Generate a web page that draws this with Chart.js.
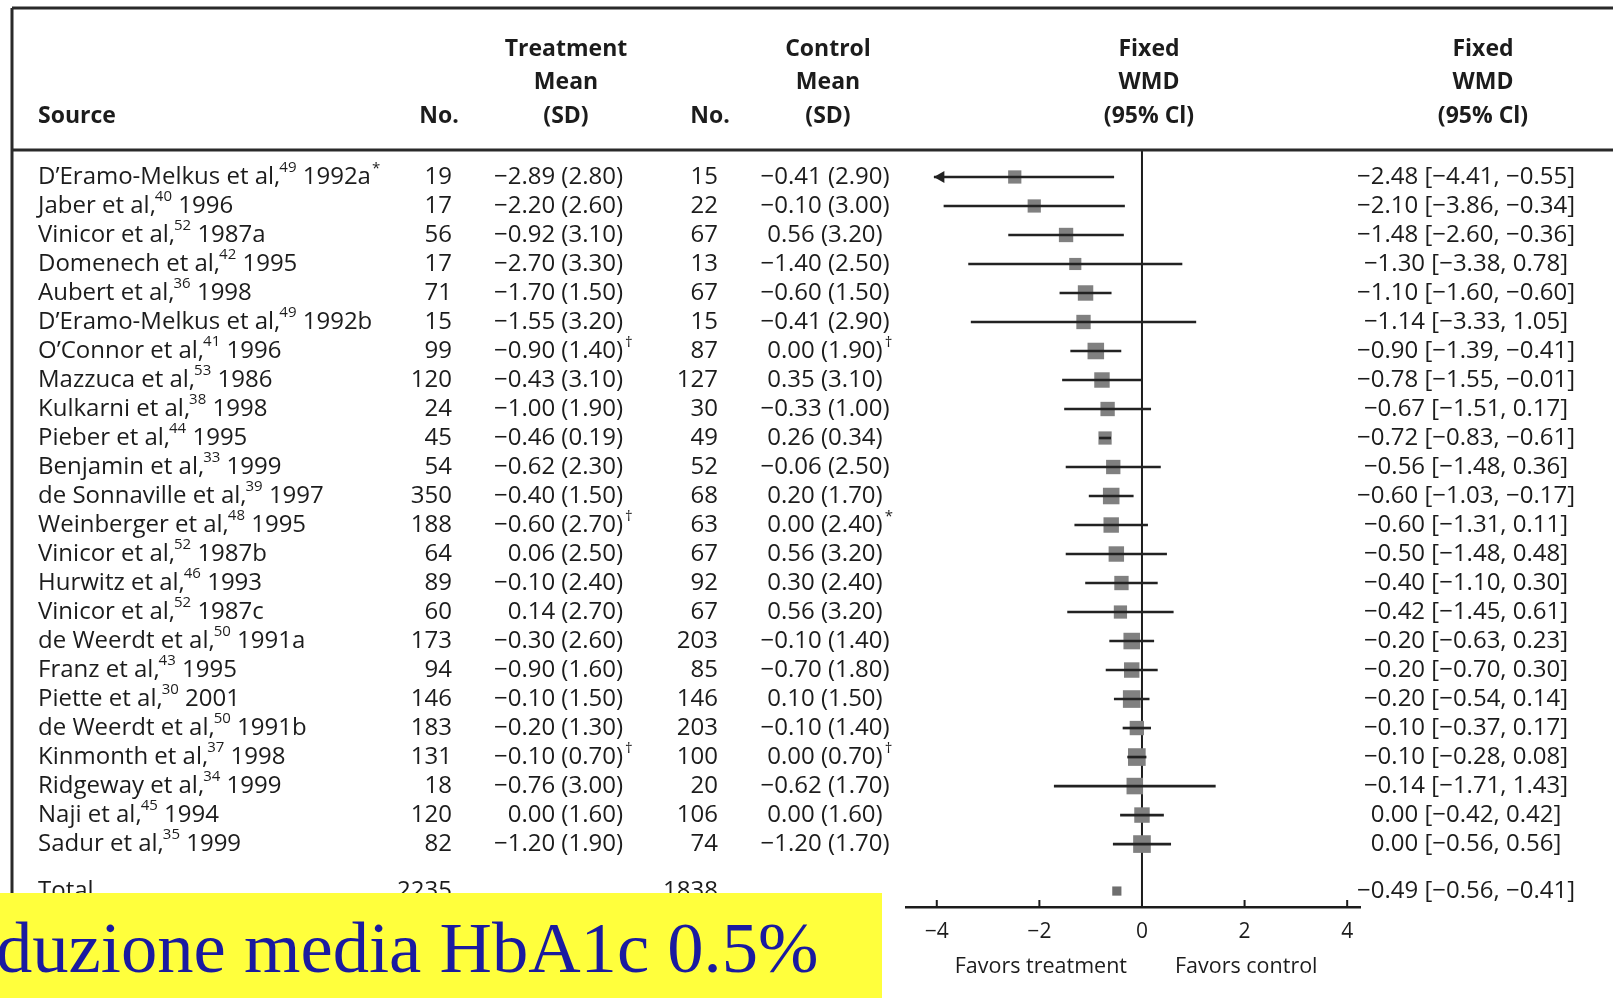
<!DOCTYPE html>
<html>
<head>
<meta charset="utf-8">
<script src="https://cdn.jsdelivr.net/npm/chart.js@4.4.1/dist/chart.umd.min.js"></script>
<style>
  html, body { margin: 0; padding: 0; background: #fff; }
  #wrap { width: 1613px; height: 998px; }
</style>
</head>
<body>
<div id="wrap"><canvas id="forest" width="1613" height="998"></canvas></div>
<script>
// study rows, top to bottom
const authors = [
  'D\u2019Eramo-Melkus et al', 'Jaber et al', 'Vinicor et al', 'Domenech et al', 'Aubert et al',
  'D\u2019Eramo-Melkus et al', 'O\u2019Connor et al', 'Mazzuca et al', 'Kulkarni et al', 'Pieber et al',
  'Benjamin et al', 'de Sonnaville et al', 'Weinberger et al', 'Vinicor et al', 'Hurwitz et al',
  'Vinicor et al', 'de Weerdt et al', 'Franz et al', 'Piette et al', 'de Weerdt et al',
  'Kinmonth et al', 'Ridgeway et al', 'Naji et al', 'Sadur et al'
];
const refs = ['49', '40', '52', '42', '36', '49', '41', '53', '38', '44', '33', '39', '48', '52', '46', '52', '50', '43', '30', '50', '37', '34', '45', '35'];
const years = ['1992a', '1996', '1987a', '1995', '1998', '1992b', '1996', '1986', '1998', '1995', '1999', '1997', '1995', '1987b', '1993', '1987c', '1991a', '1995', '2001', '1991b', '1998', '1999', '1994', '1999'];
const yearMarks = ['*', '', '', '', '', '', '', '', '', '', '', '', '', '', '', '', '', '', '', '', '', '', '', ''];

const trtN = [19, 17, 56, 17, 71, 15, 99, 120, 24, 45, 54, 350, 188, 64, 89, 60, 173, 94, 146, 183, 131, 18, 120, 82];
const trtMean = [-2.89, -2.20, -0.92, -2.70, -1.70, -1.55, -0.90, -0.43, -1.00, -0.46, -0.62, -0.40, -0.60, 0.06, -0.10, 0.14, -0.30, -0.90, -0.10, -0.20, -0.10, -0.76, 0.00, -1.20];
const trtSD = [2.80, 2.60, 3.10, 3.30, 1.50, 3.20, 1.40, 3.10, 1.90, 0.19, 2.30, 1.50, 2.70, 2.50, 2.40, 2.70, 2.60, 1.60, 1.50, 1.30, 0.70, 3.00, 1.60, 1.90];
const trtMarks = ['', '', '', '', '', '', '\u2020', '', '', '', '', '', '\u2020', '', '', '', '', '', '', '', '\u2020', '', '', ''];

const ctlN = [15, 22, 67, 13, 67, 15, 87, 127, 30, 49, 52, 68, 63, 67, 92, 67, 203, 85, 146, 203, 100, 20, 106, 74];
const ctlMean = [-0.41, -0.10, 0.56, -1.40, -0.60, -0.41, 0.00, 0.35, -0.33, 0.26, -0.06, 0.20, 0.00, 0.56, 0.30, 0.56, -0.10, -0.70, 0.10, -0.10, 0.00, -0.62, 0.00, -1.20];
const ctlSD = [2.90, 3.00, 3.20, 2.50, 1.50, 2.90, 1.90, 3.10, 1.00, 0.34, 2.50, 1.70, 2.40, 3.20, 2.40, 3.20, 1.40, 1.80, 1.50, 1.40, 0.70, 1.70, 1.60, 1.70];
const ctlMarks = ['', '', '', '', '', '', '\u2020', '', '', '', '', '', '*', '', '', '', '', '', '', '', '\u2020', '', '', ''];

const wmd = [-2.48, -2.10, -1.48, -1.30, -1.10, -1.14, -0.90, -0.78, -0.67, -0.72, -0.56, -0.60, -0.60, -0.50, -0.40, -0.42, -0.20, -0.20, -0.20, -0.10, -0.10, -0.14, 0.00, 0.00];
const ciLow = [-4.41, -3.86, -2.60, -3.38, -1.60, -3.33, -1.39, -1.55, -1.51, -0.83, -1.48, -1.03, -1.31, -1.48, -1.10, -1.45, -0.63, -0.70, -0.54, -0.37, -0.28, -1.71, -0.42, -0.56];
const ciHigh = [-0.55, -0.34, -0.36, 0.78, -0.60, 1.05, -0.41, -0.01, 0.17, -0.61, 0.36, -0.17, 0.11, 0.48, 0.30, 0.61, 0.23, 0.30, 0.14, 0.17, 0.08, 1.43, 0.42, 0.56];
// relative weight
const weight = [12, 12, 13, 11, 14, 13, 15, 14, 13, 12, 13, 15, 14, 14, 13, 12, 15, 14, 16, 13, 16, 15, 14, 16];

const totalTrtN = 2235;
const totalCtlN = 1838;
const totalWmd = -0.49;
const totalLow = -0.56;
const totalHigh = -0.41;

const xTicks = [-4, -2, 0, 2, 4];
const bannerText = 'duzione media HbA1c 0.5%';

const rows = authors.map((a, i) => i);
const totalRow = 24.62;
const plotLimit = -4.05;   // whiskers past this end in an arrow

const FONT = '"Open Sans", "Noto Sans", sans-serif';
const ink = '#1c1c1c';

function fmt(v) {
  return (v < 0 ? '\u2212' : '') + Math.abs(v).toFixed(2);
}

// draws a list of [text, size, raise, gap] pieces one after another
function drawRun(ctx, pieces, x, y) {
  let cx = x;
  pieces.forEach(p => {
    ctx.font = p[1] + 'px ' + FONT;
    ctx.fillText(p[0], cx, y - (p[2] || 0));
    cx += ctx.measureText(p[0]).width + (p[3] || 0);
  });
  return cx;
}

const tablePlugin = {
  id: 'table',
  beforeDatasetsDraw(chart) {
    const { ctx, chartArea, scales: { x } } = chart;
    const x0 = x.getPixelForValue(0);
    ctx.save();
    ctx.strokeStyle = ink;
    ctx.lineWidth = 2;
    ctx.beginPath();
    ctx.moveTo(x0, chartArea.top);
    ctx.lineTo(x0, chartArea.bottom);
    ctx.stroke();
    ctx.restore();
  },
  afterDraw(chart) {
    const { ctx, chartArea, scales: { x, y } } = chart;
    ctx.save();

    // frame
    ctx.strokeStyle = '#2a2a2a';
    ctx.lineWidth = 3;
    ctx.beginPath();
    ctx.moveTo(12, 8); ctx.lineTo(1613, 8);
    ctx.moveTo(12, chartArea.top); ctx.lineTo(1613, chartArea.top);
    ctx.moveTo(12, 8); ctx.lineTo(12, 900);
    ctx.stroke();

    // upward tick marks on the axis
    ctx.lineWidth = 2;
    ctx.strokeStyle = ink;
    ctx.beginPath();
    xTicks.forEach(v => {
      const px = x.getPixelForValue(v);
      ctx.moveTo(px, chartArea.bottom);
      ctx.lineTo(px, chartArea.bottom - 7);
    });
    ctx.stroke();

    ctx.fillStyle = ink;
    ctx.textBaseline = 'middle';

    // header
    ctx.font = 'bold 23px ' + FONT;
    ctx.textAlign = 'left';
    ctx.fillText('Source', 38, 116);
    ctx.textAlign = 'center';
    ctx.fillText('No.', 439, 116);
    ctx.fillText('No.', 710, 116);
    [['Treatment', 'Mean', '(SD)', 566], ['Control', 'Mean', '(SD)', 828],
     ['Fixed', 'WMD', '(95% Cl)', 1149], ['Fixed', 'WMD', '(95% Cl)', 1483]].forEach(h => {
      ctx.fillText(h[0], h[3], 49);
      ctx.fillText(h[1], h[3], 82);
      ctx.fillText(h[2], h[3], 116);
    });

    // rows
    rows.forEach(i => {
      const py = y.getPixelForValue(i);
      ctx.textAlign = 'left';
      drawRun(ctx, [
        [authors[i] + ',', 24, 0, -1],
        [refs[i], 15, 9, 0],
        [' ' + years[i], 24, 0, 1],
        [yearMarks[i], 15, 8]
      ], 38, py);

      ctx.font = '24px ' + FONT;
      ctx.textAlign = 'right';
      ctx.fillText(String(trtN[i]), 452, py);
      ctx.fillText(String(ctlN[i]), 718, py);
      const tText = fmt(trtMean[i]) + ' (' + trtSD[i].toFixed(2) + ')';
      ctx.fillText(tText, 623, py);
      ctx.textAlign = 'center';
      const cText = fmt(ctlMean[i]) + ' (' + ctlSD[i].toFixed(2) + ')';
      ctx.fillText(cText, 825, py);
      const cw = ctx.measureText(cText).width;
      ctx.fillText(fmt(wmd[i]) + ' [' + fmt(ciLow[i]) + ', ' + fmt(ciHigh[i]) + ']', 1466, py);

      ctx.textAlign = 'left';
      ctx.font = '15px ' + FONT;
      if (trtMarks[i]) ctx.fillText(trtMarks[i], 625, py - 8);
      if (ctlMarks[i]) ctx.fillText(ctlMarks[i], 825 + cw / 2 + 2, py - 8);
    });

    // total row
    const ty = y.getPixelForValue(totalRow);
    ctx.font = '24px ' + FONT;
    ctx.textAlign = 'left';
    ctx.fillText('Total', 38, ty);
    ctx.textAlign = 'right';
    ctx.fillText(String(totalTrtN), 452, ty);
    ctx.fillText(String(totalCtlN), 718, ty);
    ctx.textAlign = 'center';
    ctx.fillText(fmt(totalWmd) + ' [' + fmt(totalLow) + ', ' + fmt(totalHigh) + ']', 1466, ty);

    // favors labels
    const x0 = x.getPixelForValue(0);
    ctx.font = '21.5px ' + FONT;
    ctx.textAlign = 'right';
    ctx.fillText('Favors treatment', x0 - 15, 967);
    ctx.textAlign = 'left';
    ctx.fillText('Favors control', x0 + 33, 967);

    // yellow banner over the bottom left
    ctx.fillStyle = '#ffff3c';
    ctx.fillRect(0, 893, 882, 105);
    ctx.fillStyle = '#1a1aa0';
    ctx.textBaseline = 'alphabetic';
    ctx.font = '74px "Liberation Serif", "Times New Roman", serif';
    const bw = ctx.measureText(bannerText).width;
    const size = 74 * 822 / bw;
    ctx.font = size.toFixed(1) + 'px "Liberation Serif", "Times New Roman", serif';
    ctx.fillText(bannerText, -4, 972);

    ctx.restore();
  }
};

const whiskers = rows.map(i => ({ y: i, x: [Math.max(ciLow[i], plotLimit), ciHigh[i]] }));
const squares = rows.map(i => ({ x: wmd[i], y: i }));
const arrows = rows.filter(i => ciLow[i] < plotLimit).map(i => ({ x: plotLimit + 0.13, y: i }));

new Chart(document.getElementById('forest'), {
  type: 'bar',
  data: {
    datasets: [
      {
        type: 'bar',
        indexAxis: 'y',
        data: whiskers,
        backgroundColor: '#222',
        borderWidth: 0,
        barThickness: 2
      },
      {
        type: 'scatter',
        data: arrows,
        pointStyle: 'triangle',
        rotation: 270,
        pointRadius: 7,
        backgroundColor: '#222',
        borderWidth: 0
      },
      {
        type: 'scatter',
        data: [{ x: totalWmd, y: totalRow }],
        pointStyle: 'rect',
        pointRadius: 6.5,
        backgroundColor: '#6e6e6e',
        borderWidth: 0
      },
      {
        type: 'scatter',
        data: squares,
        pointStyle: 'rect',
        pointRadius: ctx => weight[ctx.dataIndex] * 0.78,
        backgroundColor: '#808080',
        borderWidth: 0
      }
    ]
  },
  options: {
    responsive: false,
    animation: false,
    devicePixelRatio: 1,
    layout: { padding: { left: 906, right: 253, top: 150, bottom: 31 } },
    plugins: { legend: { display: false }, tooltip: { enabled: false } },
    scales: {
      x: {
        type: 'linear',
        offset: false,
        min: -4.6,
        max: 4.25,
        afterBuildTicks: s => { s.ticks = xTicks.map(v => ({ value: v })); },
        afterFit: s => { s.height = 60; },
        grid: { display: true, drawOnChartArea: false, drawTicks: false, offset: false },
        border: { display: true, color: ink, width: 2.5 },
        ticks: {
          color: ink,
          padding: 12,
          font: { family: FONT, size: 21 },
          callback: v => (v < 0 ? '\u2212' + Math.abs(v) : String(v))
        }
      },
      y: {
        type: 'linear',
        offset: false,
        reverse: true,
        min: -0.93,
        max: 25.17,
        display: false,
        grid: { offset: false }
      }
    }
  },
  plugins: [tablePlugin]
});
</script>
</body>
</html>
